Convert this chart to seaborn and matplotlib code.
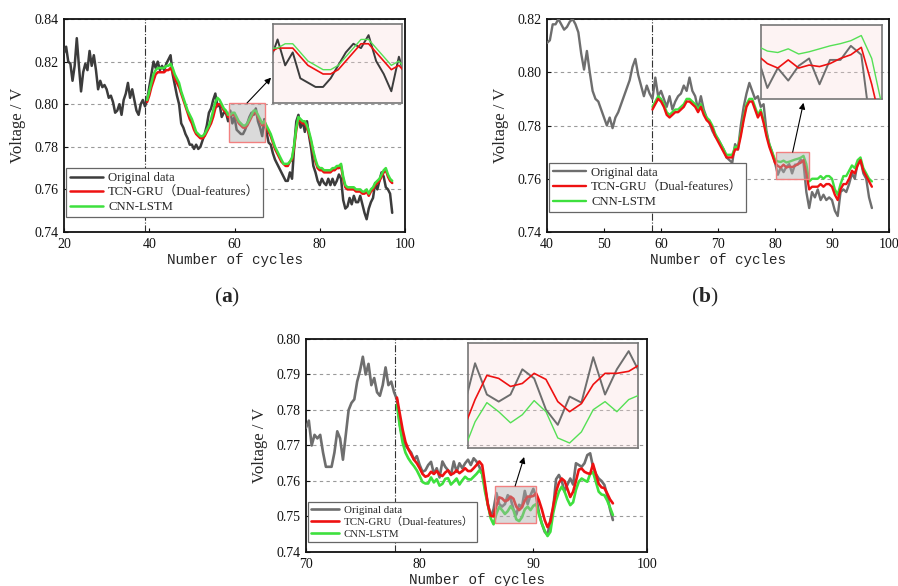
import numpy as np
import matplotlib
matplotlib.use("Agg")
import matplotlib.pyplot as plt
import seaborn as sns
from matplotlib.patches import Rectangle
from matplotlib.ticker import FormatStrFormatter

# ---------------- data ----------------
# panel (a): original from cycle 20 (step 0.5), predictions from 39.5 (step 0.5)
A_ORIG_START, A_PRED_START, A_STEP = 20.0, 39.5, 0.5
a_orig = [0.824, 0.827, 0.820, 0.819, 0.811, 0.818, 0.831, 0.818, 0.806, 0.815,
          0.819, 0.816, 0.825, 0.818, 0.823, 0.816, 0.807, 0.811, 0.808, 0.809,
          0.807, 0.803, 0.804, 0.801, 0.796, 0.797, 0.800, 0.795, 0.802, 0.805,
          0.810, 0.803, 0.807, 0.802, 0.797, 0.795, 0.800, 0.802, 0.799, 0.802,
          0.808, 0.814, 0.820, 0.817, 0.820, 0.816, 0.818, 0.816, 0.819, 0.821,
          0.823, 0.814, 0.809, 0.804, 0.800, 0.791, 0.789, 0.786, 0.784, 0.781,
          0.781, 0.779, 0.781, 0.779, 0.780, 0.783, 0.786, 0.790, 0.796, 0.798,
          0.802, 0.805, 0.799, 0.800, 0.794, 0.796, 0.796, 0.792, 0.797, 0.791,
          0.794, 0.788, 0.787, 0.786, 0.786, 0.788, 0.791, 0.794, 0.796, 0.795,
          0.798, 0.792, 0.789, 0.785, 0.793, 0.787, 0.782, 0.781, 0.777, 0.774,
          0.772, 0.770, 0.768, 0.766, 0.764, 0.764, 0.768, 0.765, 0.780, 0.792,
          0.795, 0.789, 0.792, 0.787, 0.792, 0.785, 0.779, 0.771, 0.768, 0.764,
          0.762, 0.765, 0.763, 0.762, 0.765, 0.762, 0.765, 0.762, 0.764, 0.767,
          0.765, 0.755, 0.751, 0.752, 0.756, 0.753, 0.757, 0.754, 0.754, 0.757,
          0.753, 0.749, 0.746, 0.751, 0.754, 0.756, 0.763, 0.760, 0.764, 0.768,
          0.766, 0.761, 0.760, 0.758, 0.749]
a_tcn = [0.801, 0.804, 0.808, 0.811, 0.814, 0.815, 0.815, 0.815, 0.815, 0.816,
         0.816, 0.817, 0.815, 0.812, 0.810, 0.808, 0.805, 0.802, 0.799, 0.796,
         0.793, 0.791, 0.788, 0.786, 0.785, 0.784, 0.784, 0.785, 0.787, 0.789,
         0.791, 0.794, 0.798, 0.800, 0.800, 0.799, 0.797, 0.796, 0.794, 0.795,
         0.795, 0.795, 0.793, 0.791, 0.790, 0.789, 0.789, 0.790, 0.792, 0.794,
         0.796, 0.796, 0.794, 0.792, 0.790, 0.791, 0.789, 0.787, 0.785, 0.782,
         0.779, 0.777, 0.775, 0.773, 0.772, 0.771, 0.771, 0.773, 0.774, 0.780,
         0.788, 0.793, 0.792, 0.791, 0.791, 0.789, 0.786, 0.782, 0.777, 0.773,
         0.770, 0.769, 0.769, 0.768, 0.768, 0.768, 0.768, 0.769, 0.769, 0.770,
         0.770, 0.771, 0.765, 0.761, 0.760, 0.760, 0.760, 0.760, 0.759, 0.759,
         0.759, 0.758, 0.758, 0.759, 0.757, 0.759, 0.760, 0.762, 0.763, 0.764,
         0.766, 0.768, 0.769, 0.766, 0.764, 0.763]
a_cnn = [0.802, 0.806, 0.810, 0.814, 0.816, 0.817, 0.817, 0.817, 0.817, 0.818,
         0.818, 0.819, 0.817, 0.814, 0.812, 0.810, 0.806, 0.803, 0.800, 0.797,
         0.795, 0.793, 0.790, 0.787, 0.786, 0.785, 0.785, 0.786, 0.788, 0.790,
         0.793, 0.797, 0.801, 0.803, 0.802, 0.800, 0.798, 0.797, 0.795, 0.795,
         0.796, 0.796, 0.794, 0.792, 0.791, 0.790, 0.790, 0.791, 0.793, 0.795,
         0.797, 0.797, 0.795, 0.793, 0.791, 0.792, 0.790, 0.788, 0.786, 0.783,
         0.780, 0.778, 0.776, 0.774, 0.772, 0.772, 0.772, 0.773, 0.775, 0.781,
         0.789, 0.794, 0.793, 0.792, 0.792, 0.790, 0.787, 0.783, 0.778, 0.774,
         0.771, 0.770, 0.770, 0.769, 0.769, 0.769, 0.769, 0.770, 0.770, 0.771,
         0.771, 0.772, 0.766, 0.762, 0.761, 0.761, 0.761, 0.761, 0.760, 0.760,
         0.760, 0.759, 0.759, 0.760, 0.758, 0.760, 0.761, 0.763, 0.764, 0.765,
         0.767, 0.769, 0.770, 0.767, 0.765, 0.764]

# panel (b): original from cycle 40 (step 0.5), predictions from 58.5 (step 0.5)
B_ORIG_START, B_PRED_START, B_STEP = 40.0, 58.5, 0.5
b_orig = [0.811, 0.812, 0.818, 0.818, 0.820, 0.818, 0.816, 0.817, 0.819, 0.820,
          0.818, 0.815, 0.807, 0.801, 0.808, 0.800, 0.793, 0.790, 0.789, 0.786,
          0.783, 0.780, 0.783, 0.779, 0.783, 0.785, 0.788, 0.791, 0.794, 0.797,
          0.802, 0.805, 0.799, 0.795, 0.791, 0.795, 0.792, 0.790, 0.798, 0.791,
          0.793, 0.790, 0.787, 0.791, 0.786, 0.789, 0.791, 0.792, 0.795, 0.793,
          0.798, 0.793, 0.791, 0.786, 0.791, 0.786, 0.783, 0.781, 0.778, 0.776,
          0.775, 0.773, 0.771, 0.768, 0.767, 0.766, 0.773, 0.771, 0.780, 0.787,
          0.792, 0.796, 0.793, 0.790, 0.791, 0.787, 0.788, 0.778, 0.773, 0.770,
          0.766, 0.7615, 0.7642, 0.7625, 0.7645, 0.7655, 0.762, 0.7653, 0.7653, 0.7672,
          0.766, 0.755, 0.749, 0.755, 0.753, 0.756, 0.752, 0.754, 0.752, 0.753,
          0.752, 0.748, 0.746, 0.755, 0.756, 0.755, 0.758, 0.762, 0.760, 0.766,
          0.767, 0.762, 0.760, 0.753, 0.749]
b_tcn = [0.786, 0.788, 0.790, 0.789, 0.787, 0.784, 0.783, 0.784, 0.785, 0.785,
         0.786, 0.787, 0.789, 0.789, 0.788, 0.787, 0.785, 0.787, 0.784, 0.782,
         0.781, 0.779, 0.776, 0.774, 0.772, 0.770, 0.768, 0.768, 0.768, 0.771,
         0.771, 0.776, 0.782, 0.787, 0.789, 0.789, 0.786, 0.783, 0.785, 0.781,
         0.776, 0.772, 0.769, 0.766, 0.7648, 0.7642, 0.7653, 0.7642, 0.7646, 0.7644,
         0.7648, 0.7655, 0.7660, 0.7670, 0.762, 0.756, 0.757, 0.757, 0.757, 0.758,
         0.757, 0.758, 0.758, 0.757, 0.754, 0.752, 0.756, 0.758, 0.758, 0.760,
         0.763, 0.762, 0.765, 0.767, 0.763, 0.761, 0.759, 0.757]
b_cnn = [0.787, 0.789, 0.791, 0.790, 0.788, 0.785, 0.784, 0.785, 0.786, 0.786,
         0.787, 0.788, 0.790, 0.790, 0.789, 0.788, 0.786, 0.788, 0.785, 0.783,
         0.782, 0.780, 0.777, 0.775, 0.773, 0.771, 0.769, 0.769, 0.769, 0.772,
         0.772, 0.777, 0.783, 0.788, 0.790, 0.790, 0.787, 0.784, 0.786, 0.782,
         0.777, 0.773, 0.770, 0.7672, 0.7665, 0.7663, 0.7668, 0.7661, 0.7664, 0.7668,
         0.7672, 0.7675, 0.7679, 0.7686, 0.7655, 0.759, 0.760, 0.760, 0.760, 0.761,
         0.760, 0.761, 0.761, 0.760, 0.756, 0.754, 0.758, 0.761, 0.761, 0.763,
         0.765, 0.764, 0.767, 0.768, 0.764, 0.762, 0.760, 0.759]

# panel (c): original from cycle 70 (step 0.25), predictions from 78 (step 0.25)
C_ORIG_START, C_PRED_START, C_STEP = 70.0, 78.0, 0.25
c_orig = [0.775, 0.777, 0.770, 0.773,
          0.772, 0.773, 0.768, 0.764,
          0.764, 0.764, 0.768, 0.774,
          0.772, 0.766, 0.773, 0.780,
          0.782, 0.783, 0.788, 0.791,
          0.795, 0.790, 0.793, 0.787,
          0.789, 0.785, 0.784, 0.787,
          0.792, 0.787, 0.788, 0.785,
          0.783, 0.776, 0.772, 0.770,
          0.769, 0.768, 0.766, 0.767,
          0.7645, 0.7626, 0.763, 0.7645,
          0.7654, 0.762, 0.7636, 0.761,
          0.7655, 0.764, 0.763, 0.7617,
          0.7655, 0.7626, 0.765, 0.7636,
          0.765, 0.766, 0.7645, 0.7664,
          0.7655, 0.764, 0.762, 0.758,
          0.7535, 0.750, 0.752, 0.7566,
          0.7535, 0.7528, 0.7535, 0.7560,
          0.7551, 0.7520, 0.7505, 0.7533,
          0.7527, 0.7572, 0.7535, 0.7560,
          0.7578, 0.7555, 0.751, 0.748,
          0.7457, 0.7448, 0.749, 0.7523,
          0.7605, 0.7617, 0.760, 0.757,
          0.759, 0.7607, 0.759, 0.765,
          0.7645, 0.764, 0.765, 0.7673,
          0.7678, 0.764, 0.762, 0.7607,
          0.760, 0.7589, 0.756, 0.752,
          0.749]
c_tcn = [0.7835, 0.779, 0.7745, 0.771,
         0.769, 0.7675, 0.766, 0.765,
         0.7636, 0.762, 0.7612, 0.7615,
         0.7626, 0.762, 0.7628, 0.7618,
         0.7614, 0.7624, 0.763, 0.7618,
         0.7622, 0.763, 0.7622, 0.7628,
         0.7636, 0.7628, 0.7628, 0.7636,
         0.7645, 0.7655, 0.7645, 0.759,
         0.7533, 0.7502, 0.750, 0.7530,
         0.7554, 0.7551, 0.7543, 0.7546,
         0.7556, 0.7550, 0.7528, 0.7518,
         0.7526, 0.7545, 0.7556, 0.7556,
         0.7558, 0.7565, 0.7545, 0.752,
         0.749, 0.747, 0.7485, 0.753,
         0.757, 0.7595, 0.7607, 0.760,
         0.7578, 0.7555, 0.757, 0.760,
         0.7632, 0.7635, 0.7626, 0.7622,
         0.762, 0.7648, 0.762, 0.7592,
         0.7582, 0.758, 0.7565, 0.7548,
         0.7537]
c_cnn = [0.7815, 0.7755, 0.7708, 0.768,
         0.7664, 0.7652, 0.7642, 0.763,
         0.7614, 0.7597, 0.7593, 0.7593,
         0.7610, 0.7596, 0.7605, 0.7587,
         0.7592, 0.7606, 0.7608, 0.7590,
         0.7598, 0.7607, 0.7590, 0.7602,
         0.7612, 0.7605, 0.7604, 0.7612,
         0.7620, 0.7630, 0.7620, 0.757,
         0.7533, 0.7495, 0.7478, 0.7508,
         0.7527, 0.7518, 0.7507, 0.7515,
         0.7529, 0.7518, 0.7492, 0.7487,
         0.7498, 0.7520, 0.7528, 0.7518,
         0.7530, 0.7535, 0.7505, 0.748,
         0.746, 0.7445, 0.7457, 0.751,
         0.7545, 0.757, 0.7584, 0.757,
         0.7548, 0.7532, 0.7540, 0.7575,
         0.7598, 0.7607, 0.7602, 0.7598,
         0.7620, 0.7625, 0.7598, 0.757,
         0.7562, 0.756, 0.7545, 0.7525,
         0.7504]

assert len(a_orig) == 155 and len(a_tcn) == 116 and len(a_cnn) == 116
assert len(b_orig) == 115 and len(b_tcn) == 78 and len(b_cnn) == 78
assert len(c_orig) == 109 and len(c_tcn) == 77 and len(c_cnn) == 77

LABELS = ["Original data", "TCN-GRU（Dual-features）", "CNN-LSTM"]
X_LABEL = "Number of cycles"
Y_LABEL = "Voltage / V"

# ---------------- style ----------------
sns.set_style("ticks")
plt.rcParams["font.family"] = ["Liberation Serif", "Noto Sans CJK SC"]
plt.rcParams["mathtext.fontset"] = "custom"
plt.rcParams["mathtext.rm"] = "Liberation Serif"
plt.rcParams["mathtext.bf"] = "Liberation Serif:bold"

RED = "#ee1111"
GREEN = "#3ee03e"
W, H = 898, 586
fig = plt.figure(figsize=(W / 100, H / 100), dpi=100)


def px_rect(l, t, r, b):
    return [l / W, 1 - b / H, (r - l) / W, (b - t) / H]


def panel(rect, orig, o0, p0, step, tcn, cnn, xlim, ylim, xticks, yticks,
          split, zoom, inset_bounds, head, gray, lw, leg_anchor, leg_fs,
          order_red_top):
    ax = fig.add_axes(rect)
    xo = o0 + step * np.arange(len(orig))
    xp = p0 + step * np.arange(len(tcn))
    zr, zg = (5, 4) if order_red_top else (4, 5)
    sns.lineplot(x=xo, y=orig, ax=ax, color=gray, linewidth=lw, label=LABELS[0], zorder=3)
    sns.lineplot(x=xp, y=tcn, ax=ax, color=RED, linewidth=lw, label=LABELS[1], zorder=zr)
    sns.lineplot(x=xp, y=cnn, ax=ax, color=GREEN, linewidth=lw, label=LABELS[2], zorder=zg)
    ax.set_xlim(*xlim)
    ax.set_ylim(*ylim)
    ax.set_xticks(xticks)
    ax.set_yticks(yticks)
    ax.yaxis.set_major_formatter(FormatStrFormatter("%.2f"))
    ax.yaxis.grid(True, linestyle=(0, (3, 3)), color="#9a9a9a", linewidth=0.8)
    ax.xaxis.grid(False)
    ax.set_axisbelow(True)
    ax.axvline(split, color="#333333", linestyle="-.", linewidth=0.8, zorder=2)
    for s in ax.spines.values():
        s.set_linewidth(1.3)
        s.set_color("#111111")
    ax.tick_params(direction="in", length=3, width=0.8, labelsize=10, pad=4,
                   colors="#111111")
    ax.set_xlabel(X_LABEL, family="Liberation Mono", fontsize=10.3, labelpad=2)
    ax.set_ylabel(Y_LABEL, fontsize=12, labelpad=6)
    leg = ax.legend(loc="lower left", bbox_to_anchor=leg_anchor, frameon=True,
                    fancybox=False, edgecolor="#666666", framealpha=1,
                    prop={"family": ["Liberation Serif", "Noto Sans CJK SC"], "size": leg_fs},
                    handlelength=2.6, borderpad=0.3, labelspacing=0.2,
                    handletextpad=0.4, borderaxespad=0)
    leg.get_frame().set_linewidth(0.9)
    leg.set_zorder(10)

    # zoom window
    (zx0, zx1), (zy0, zy1) = zoom
    ax.add_patch(Rectangle((zx0, zy0), zx1 - zx0, zy1 - zy0,
                           facecolor=(0.68, 0.68, 0.68, 0.45),
                           edgecolor=(0.95, 0.5, 0.5, 1.0), linewidth=1.0, zorder=6))
    ins = ax.inset_axes(inset_bounds)
    ins.set_facecolor((0.98, 0.85, 0.85, 0.3))
    sns.lineplot(x=xo, y=orig, ax=ins, color=gray, linewidth=1.4, legend=False)
    sns.lineplot(x=xp, y=tcn, ax=ins, color=RED, linewidth=1.2, legend=False, zorder=zr)
    sns.lineplot(x=xp, y=cnn, ax=ins, color="#55e055", linewidth=1.0, legend=False, zorder=zg)
    ins.set_xlim(zx0, zx1)
    ins.set_ylim(zy0, zy1)
    ins.set_xticks([])
    ins.set_yticks([])
    ins.set_xlabel("")
    ins.set_ylabel("")
    for s in ins.spines.values():
        s.set_color("#777777")
        s.set_linewidth(1.2)
    ax.annotate("", xy=head, xycoords=ins.transAxes,
                xytext=((zx0 + zx1) / 2, zy1), textcoords="data",
                arrowprops=dict(arrowstyle="-|>", color="black", lw=0.8,
                                mutation_scale=9, shrinkA=0, shrinkB=0),
                zorder=7)
    return ax


# (a)
panel(px_rect(64, 19, 405, 232), a_orig, A_ORIG_START, A_PRED_START, A_STEP,
      a_tcn, a_cnn, (20, 100), (0.74, 0.84), [20, 40, 60, 80, 100],
      [0.74, 0.76, 0.78, 0.80, 0.82, 0.84], 39.0,
      ((58.7, 67.2), (0.7823, 0.8006)), [0.613, 0.606, 0.378, 0.371],
      (-0.015, 0.32), "#3c3c3c", 1.8, (0.006, 0.07), 9.2, False)

# (b)
panel(px_rect(547, 19, 889, 232), b_orig, B_ORIG_START, B_PRED_START, B_STEP,
      b_tcn, b_cnn, (40, 100), (0.74, 0.82), [40, 50, 60, 70, 80, 90, 100],
      [0.74, 0.76, 0.78, 0.80, 0.82], 58.4,
      ((80.2, 86.0), (0.760, 0.770)), [0.626, 0.624, 0.354, 0.347],
      (0.35, -0.05), "#6e6e6e", 1.7, (0.006, 0.094), 9.2, True)

# (c)
panel(px_rect(306, 339, 647, 552), c_orig, C_ORIG_START, C_PRED_START, C_STEP,
      c_tcn, c_cnn, (70, 100), (0.74, 0.80), [70, 80, 90, 100],
      [0.74, 0.75, 0.76, 0.77, 0.78, 0.79, 0.80], 77.8,
      ((86.6, 90.2), (0.7482, 0.7586)), [0.475, 0.488, 0.499, 0.493],
      (0.33, -0.085), "#6e6e6e", 1.9, (0.006, 0.047), 7.8, True)

fig.text(227 / W, 1 - 297 / H, r"($\mathbf{a}$)", ha="center", va="center", fontsize=15.5)
fig.text(705 / W, 1 - 297 / H, r"($\mathbf{b}$)", ha="center", va="center", fontsize=15.5)

fig.savefig("out.png", dpi=100)
